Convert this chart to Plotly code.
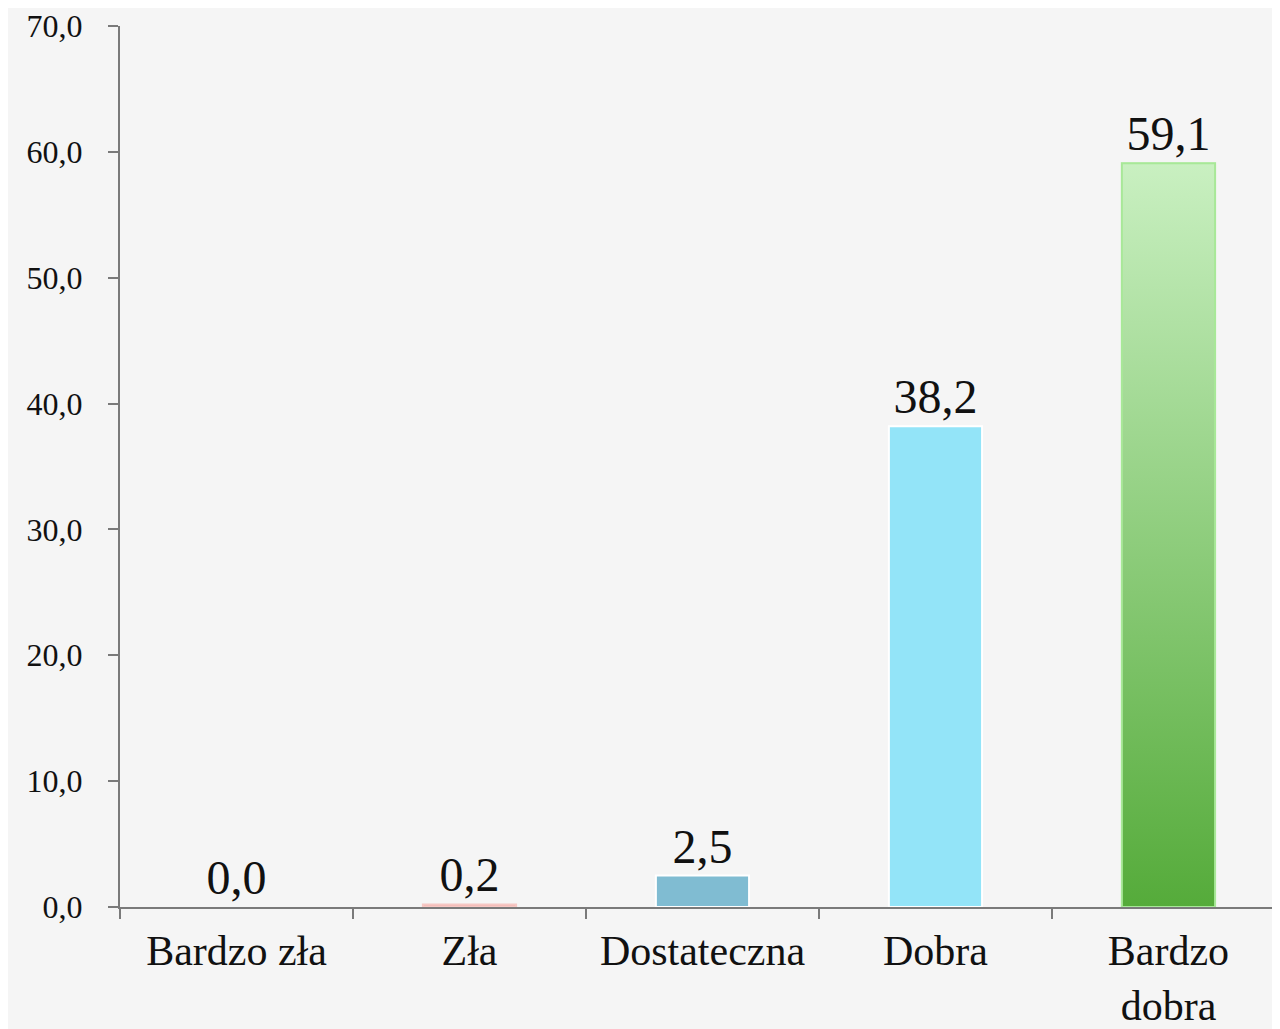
import plotly.graph_objects as go

categories = ["Bardzo zła", "Zła", "Dostateczna", "Dobra", "Bardzo dobra"]
category_labels = ["Bardzo zła", "Zła", "Dostateczna", "Dobra", "Bardzo<br>dobra"]
values = [0.0, 0.2, 2.5, 38.2, 59.1]
value_labels = ["0,0", "0,2", "2,5", "38,2", "59,1"]
y_ticks = [0, 10, 20, 30, 40, 50, 60, 70]
y_tick_labels = ["0,0", "10,0", "20,0", "30,0", "40,0", "50,0", "60,0", "70,0"]

bar_colors = ["#f2b5b0", "#f2b5b0", "#80bcd2", "#93e4f8", "#7cc866"]
line_colors = ["rgba(0,0,0,0)", "#f6c8c4", "#ffffff", "#ffffff", "#d8f5d0"]
gradient_bottom = "#55ab3a"
gradient_top = "#c9f0c1"
bar_width = 0.40
x_range = [-0.5, 4.513]

serif = "Liberation Serif"

fig = go.Figure()
fig.add_trace(go.Bar(
    x=categories, y=values, width=bar_width,
    marker=dict(color=bar_colors, line=dict(color=line_colors, width=2)),
    text=value_labels, textposition="outside", cliponaxis=False,
    textfont=dict(family=serif, size=48, color="#111111"),
    showlegend=False,
))

# gradient overlay for the last bar, built from its value and category index
i = len(values) - 1
v = values[i]
xs = [i - bar_width / 2, i - bar_width / 2, i + bar_width / 2, i + bar_width / 2, i - bar_width / 2]
ys = [0, v, v, 0, 0]
fig.add_trace(go.Scatter(
    x=xs, y=ys, xaxis="x2", mode="lines", fill="toself",
    line=dict(color="#a8e898", width=2),
    fillgradient=dict(type="vertical", colorscale=[[0, gradient_bottom], [1, gradient_top]]),
    hoverinfo="skip", showlegend=False,
))

fig.update_layout(
    width=1280, height=1029,
    margin=dict(l=112, r=0, t=14, b=130),
    paper_bgcolor="#f5f5f5", plot_bgcolor="#f5f5f5",
    xaxis=dict(
        type="category", range=x_range,
        tickvals=categories, ticktext=category_labels,
        tickson="boundaries", ticks="outside", ticklen=10, tickwidth=2, tickcolor="#7a7a7a",
        showline=True, linecolor="#7a7a7a", linewidth=2,
        showgrid=False, zeroline=False, ticklabelstandoff=6,
        tickfont=dict(family=serif, size=42, color="#111111"),
    ),
    xaxis2=dict(
        overlaying="x", range=x_range, visible=False, showgrid=False, zeroline=False,
    ),
    yaxis=dict(
        range=[0, 70], tickvals=y_ticks, ticktext=y_tick_labels,
        ticks="outside", ticklen=10, tickwidth=2, tickcolor="#7a7a7a",
        showline=True, linecolor="#7a7a7a", linewidth=2,
        showgrid=False, zeroline=False, ticklabelstandoff=19,
        ticklabeloverflow="allow",
        tickfont=dict(family=serif, size=32, color="#111111"),
    ),
)

fig.write_html("out.html")
